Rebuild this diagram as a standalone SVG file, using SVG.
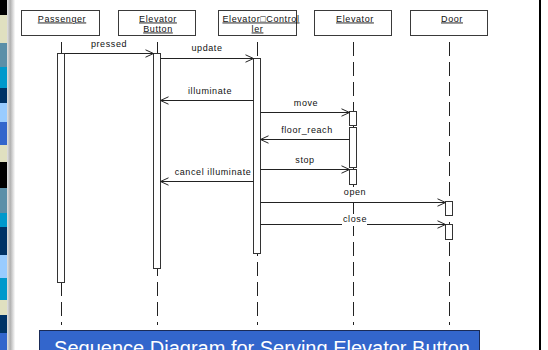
<svg xmlns="http://www.w3.org/2000/svg" width="548" height="350" viewBox="0 0 548 350">
<style>
.hdr{fill:#fff;stroke:#3a3a3a;stroke-width:1}
.ht{font-family:"Liberation Sans",Arial,sans-serif;font-size:9px;letter-spacing:0.6px;fill:#111;text-anchor:middle;text-decoration:underline}
.lt{font-family:"Liberation Sans",Arial,sans-serif;font-size:9px;letter-spacing:0.6px;fill:#111;text-anchor:middle}
.life{stroke:#222;stroke-width:1;stroke-dasharray:14 6;fill:none}
.bar{fill:#fff;stroke:#333;stroke-width:1}
.msg{stroke:#222;stroke-width:1;fill:none;marker-end:url(#arr)}
</style>
<defs>
<marker id="arr" markerUnits="userSpaceOnUse" markerWidth="10" markerHeight="10" viewBox="0 0 10 10" refX="9" refY="5" orient="auto">
<path d="M1,1.3 L9,5 L1,8.7" fill="none" stroke="#222" stroke-width="1"/>
</marker>
<linearGradient id="shade" x1="0" y1="0" x2="1" y2="0">
<stop offset="0" stop-color="#e2e2e2"/>
<stop offset="0.4" stop-color="#b0b0b0"/>
<stop offset="1" stop-color="#fbfbfb"/>
</linearGradient>
</defs>
<rect width="548" height="350" fill="#fff"/>
<g id="strip">
<rect x="0" y="0" width="7" height="15" fill="#000"/>
<rect x="0" y="15" width="7" height="28" fill="#e0e0c0"/>
<rect x="0" y="43" width="7" height="24" fill="#5b8fa8"/>
<rect x="0" y="67" width="7" height="21" fill="#0099cc"/>
<rect x="0" y="88" width="7" height="15" fill="#003366"/>
<rect x="0" y="103" width="7" height="19" fill="#99ccff"/>
<rect x="0" y="122" width="7" height="23" fill="#3366cc"/>
<rect x="0" y="145" width="7" height="17" fill="#e0e0c0"/>
<rect x="0" y="162" width="7" height="26" fill="#000"/>
<rect x="0" y="188" width="7" height="25" fill="#5b8fa8"/>
<rect x="0" y="213" width="7" height="14" fill="#0099cc"/>
<rect x="0" y="227" width="7" height="28" fill="#003366"/>
<rect x="0" y="255" width="7" height="23" fill="#99ccff"/>
<rect x="0" y="278" width="7" height="22" fill="#0099cc"/>
<rect x="0" y="300" width="7" height="15" fill="#e0e0c0"/>
<rect x="0" y="315" width="7" height="18" fill="#003366"/>
<rect x="0" y="333" width="7" height="17" fill="#3366cc"/>
<rect x="7" y="0" width="8" height="350" fill="url(#shade)"/>
</g>
<rect x="539" y="0" width="2" height="350" fill="#000"/>
<g id="lifelines">
<line class="life" x1="61.5" y1="42" x2="61.5" y2="325"/>
<line class="life" x1="157.5" y1="42" x2="157.5" y2="325"/>
<line class="life" x1="257.5" y1="42" x2="257.5" y2="325"/>
<line class="life" x1="353.5" y1="42" x2="353.5" y2="325"/>
<line class="life" x1="449.5" y1="42" x2="449.5" y2="325"/>
</g>
<g id="passenger">
<rect class="hdr" x="21.5" y="10.5" width="78" height="25"/>
<text class="ht" x="62" y="21.5">Passenger</text>
<rect class="bar" x="57.5" y="53.5" width="7" height="229"/>
</g>
<g id="elevator-button">
<rect class="hdr" x="118.5" y="10.5" width="77" height="25"/>
<text class="ht" x="158" y="21.5">Elevator</text>
<text class="ht" x="158" y="31.5">Button</text>
<rect class="bar" x="153.5" y="53.5" width="7" height="215"/>
</g>
<g id="elevator-controller">
<rect class="hdr" x="218.5" y="10.5" width="78" height="25"/>
<text class="ht" x="261" y="21.5">Elevator□Control</text>
<text class="ht" x="257.5" y="31.5">ler</text>
<rect class="bar" x="253.5" y="58.5" width="7" height="195"/>
</g>
<g id="elevator">
<rect class="hdr" x="314.5" y="10.5" width="77" height="25"/>
<text class="ht" x="355" y="21.5">Elevator</text>
<rect class="bar" x="349.5" y="111.5" width="7" height="14"/>
<rect class="bar" x="349.5" y="127.5" width="7" height="40"/>
<rect class="bar" x="349.5" y="169.5" width="7" height="15"/>
</g>
<g id="door">
<rect class="hdr" x="410.5" y="10.5" width="77" height="25"/>
<text class="ht" x="452" y="21.5">Door</text>
<rect class="bar" x="445.5" y="201.5" width="7" height="14"/>
<rect class="bar" x="445.5" y="224.5" width="7" height="15"/>
</g>
<g id="connectors">
<line class="msg" x1="64.5" y1="53.5" x2="153.5" y2="53.5"/>
<text class="lt" x="109" y="47">pressed</text>
<line class="msg" x1="160.5" y1="58.5" x2="253.5" y2="58.5"/>
<text class="lt" x="207" y="50.5">update</text>
<line class="msg" x1="253.5" y1="100.5" x2="160.5" y2="100.5"/>
<text class="lt" x="210" y="93.5">illuminate</text>
<line class="msg" x1="260.5" y1="112.5" x2="349.5" y2="112.5"/>
<text class="lt" x="306" y="105.5">move</text>
<line class="msg" x1="349.5" y1="139.5" x2="260.5" y2="139.5"/>
<text class="lt" x="307" y="133">floor_reach</text>
<line class="msg" x1="260.5" y1="169.5" x2="349.5" y2="169.5"/>
<text class="lt" x="305" y="163">stop</text>
<line class="msg" x1="253.5" y1="181.5" x2="160.5" y2="181.5"/>
<text class="lt" x="213" y="175">cancel illuminate</text>
<line class="msg" x1="260.5" y1="202.5" x2="445.5" y2="202.5"/>
<rect x="342" y="187" width="25" height="10" fill="#fff"/>
<text class="lt" x="355" y="194.5">open</text>
<line class="msg" x1="260.5" y1="224.5" x2="445.5" y2="224.5"/>
<rect x="342" y="214" width="25" height="12" fill="#fff"/>
<text class="lt" x="355" y="222">close</text>
</g>
<g id="title">
<rect x="39.5" y="330.5" width="440" height="30" fill="#3366cc" stroke="#1a2b57" stroke-width="1"/>
<text x="262" y="354.5" font-family="Liberation Sans, Arial, sans-serif" font-size="20" fill="#fff" text-anchor="middle">Sequence Diagram for Serving Elevator Button</text>
</g>
</svg>
